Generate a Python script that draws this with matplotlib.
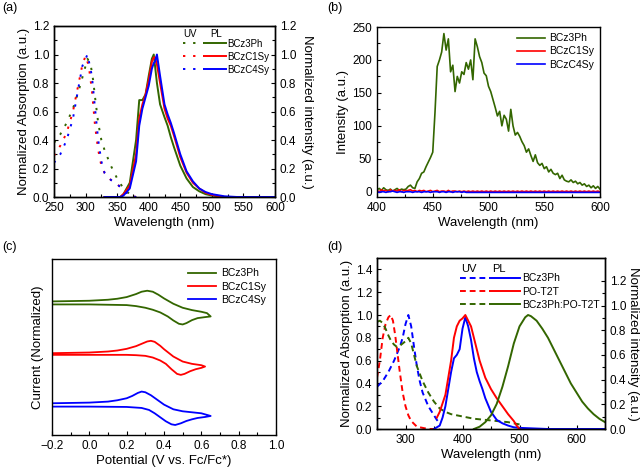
import matplotlib
matplotlib.use("Agg")
import matplotlib.pyplot as plt
import numpy as np
from matplotlib.legend_handler import HandlerTuple
from matplotlib.lines import Line2D

plt.rcParams['font.family'] = ['Liberation Sans', 'DejaVu Sans']
plt.rcParams['font.size'] = 8

GREEN = '#336600'
RED = '#ff0000'
BLUE = '#0000ff'

# ---------------- Panel (a) data ----------------
a_uv_x = [250, 260, 270, 280, 290, 295, 300, 303, 308, 312, 315, 320, 325, 330, 340, 350, 360, 370, 380]
a_uv_green = [0.38, 0.44, 0.52, 0.62, 0.76, 0.84, 0.92, 0.97, 0.93, 0.82, 0.70, 0.52, 0.40, 0.33, 0.22, 0.13, 0.06, 0.02, 0.0]
a_uv_red_x = [250, 260, 270, 280, 290, 295, 300, 305, 310, 315, 320, 325, 330, 340, 350, 360, 370, 380]
a_uv_red = [0.29, 0.36, 0.45, 0.60, 0.82, 0.93, 0.99, 0.92, 0.75, 0.50, 0.33, 0.22, 0.17, 0.12, 0.09, 0.05, 0.01, 0.0]
a_uv_blue_x = [250, 260, 270, 280, 290, 295, 300, 303, 310, 315, 320, 325, 330, 340, 350, 360, 370, 380]
a_uv_blue = [0.24, 0.30, 0.40, 0.55, 0.80, 0.92, 0.97, 1.00, 0.85, 0.62, 0.40, 0.25, 0.17, 0.12, 0.09, 0.05, 0.01, 0.0]

a_pl_x = [330, 355, 360, 370, 380, 385, 390, 395, 400, 405, 408, 410, 413, 418, 425, 430, 435, 440, 450, 460, 470, 480, 490, 500, 520, 540, 600]
a_pl_green = [0.0, 0.0, 0.02, 0.10, 0.40, 0.68, 0.68, 0.72, 0.85, 0.97, 1.00, 0.92, 0.80, 0.65, 0.56, 0.50, 0.42, 0.35, 0.22, 0.13, 0.07, 0.04, 0.02, 0.01, 0.0, 0.0, 0.0]
a_pl_red = [0.0, 0.0, 0.02, 0.08, 0.30, 0.55, 0.65, 0.72, 0.82, 0.95, 0.98, 0.98, 0.93, 0.80, 0.62, 0.55, 0.50, 0.43, 0.28, 0.17, 0.10, 0.06, 0.03, 0.015, 0.0, 0.0, 0.0]
a_pl_blue = [0.0, 0.0, 0.01, 0.06, 0.25, 0.50, 0.62, 0.70, 0.78, 0.90, 0.94, 0.95, 1.00, 0.85, 0.65, 0.58, 0.52, 0.45, 0.30, 0.18, 0.11, 0.06, 0.035, 0.02, 0.005, 0.0, 0.0]

# ---------------- Panel (b) data ----------------
b_x = list(range(400, 602, 2))
b_green = [3, 5, 2, 6, 3, 2, 4, 1, 3, 5, 2, 4, 3, 4, 8, 10, 6, 5, 15, 20,
           28, 30, 38, 45, 52, 60, 120, 190, 200, 212, 240, 215, 232, 182, 192, 152, 175, 165, 182, 178,
           196, 186, 200, 170, 232, 220, 205, 196, 180, 176, 160, 152, 140, 128, 115, 122, 100, 116, 110, 92,
           125, 100, 86, 90, 84, 76, 70, 60, 65, 55, 46, 56, 44, 40, 43, 35, 38, 30, 34, 28,
           26, 28, 20, 25, 18, 16, 15, 18, 14, 16, 12, 14, 10, 12, 8, 10, 6, 9, 5, 8, 4]
b_red = [2, 0, 3, 1, 2, 0, 3, 1, 2, 1, 3, 0, 2, 1, 2, 3, 1, 2, 0, 2,
         1, 2, 0, 1, 2, 0, 1, 2, 0, 1, 1, 0, 2, 0, 1, 1, 0, 1, 0, 1,
         0, 1, 0, 1, 0, 1, 0, 1, 0, 1, 0, 1, 0, 1, 0, 1, 0, 1, 0, 1,
         0, 1, 0, 1, 0, 1, 0, 1, 0, 1, 0, 1, 0, 1, 0, 1, 0, 1, 0, 1,
         0, 1, 0, 1, 0, 1, 0, 1, 0, 1, 0, 1, 0, 1, 0, 1, 0, 1, 0, 1, 0]
b_blue = [0, -1, 0, 0, -1, 0, 0, 1, 0, -1, 0, 0, -1, 0, 0, 0, -1, 0, 0, 0,
          -1, 0, 0, 0, -1, 0, 0, 0, -1, 0, 0, -1, 0, 0, -1, 0, 0, 0, -1, 0,
          -1, -1, -1, -1, -1, -1, -1, -1, -1, -1, -1, -1, -1, -1, -1, -1, -1, -1, -1, -1,
          -1, -1, -1, -1, -1, -1, -1, -1, -1, -1, -1, -1, -1, -1, -1, -1, -1, -1, -1, -1,
          -1, -1, -1, -1, -1, -1, -1, -1, -1, -1, -1, -1, -1, -1, -1, -1, -1, -1, -1, -1, -1]

# ---------------- Panel (c) data (closed CV loops) ----------------
c_green_v = [-0.2, -0.1, 0.0, 0.1, 0.15, 0.2, 0.25, 0.28, 0.31, 0.34, 0.37, 0.4, 0.45, 0.5, 0.55, 0.6, 0.63, 0.65,
             0.62, 0.58, 0.55, 0.52, 0.5, 0.48, 0.45, 0.42, 0.38, 0.34, 0.3, 0.25, 0.2, 0.1, 0.0, -0.2]
c_green_i = [4.00, 4.01, 4.02, 4.05, 4.08, 4.13, 4.22, 4.29, 4.32, 4.29, 4.20, 4.09, 3.93, 3.81, 3.74, 3.69, 3.65, 3.55,
             3.53, 3.50, 3.44, 3.35, 3.31, 3.33, 3.43, 3.55, 3.67, 3.75, 3.81, 3.86, 3.89, 3.90, 3.91, 3.91]
c_red_v = [-0.2, -0.1, 0.0, 0.1, 0.15, 0.2, 0.25, 0.28, 0.31, 0.33, 0.35, 0.38, 0.4, 0.45, 0.5, 0.55, 0.6, 0.62,
           0.6, 0.57, 0.54, 0.51, 0.49, 0.47, 0.44, 0.41, 0.38, 0.34, 0.3, 0.25, 0.2, 0.0, -0.2]
c_red_i = [2.45, 2.46, 2.47, 2.50, 2.53, 2.58, 2.66, 2.73, 2.80, 2.82, 2.79, 2.67, 2.57, 2.35, 2.20, 2.13, 2.09, 2.05,
           2.01, 1.97, 1.91, 1.83, 1.80, 1.83, 1.97, 2.13, 2.23, 2.32, 2.37, 2.39, 2.40, 2.40, 2.40]
c_blue_v = [-0.2, -0.1, 0.0, 0.1, 0.15, 0.2, 0.23, 0.26, 0.28, 0.3, 0.33, 0.36, 0.4, 0.45, 0.5, 0.55, 0.6, 0.65,
            0.62, 0.58, 0.55, 0.52, 0.49, 0.46, 0.44, 0.41, 0.38, 0.35, 0.32, 0.28, 0.2, 0.0, -0.2]
c_blue_i = [0.95, 0.96, 0.97, 1.00, 1.04, 1.10, 1.17, 1.26, 1.30, 1.28, 1.19, 1.07, 0.91, 0.77, 0.71, 0.68, 0.65, 0.57,
            0.54, 0.51, 0.47, 0.42, 0.35, 0.30, 0.32, 0.41, 0.53, 0.65, 0.75, 0.81, 0.84, 0.85, 0.85]

# ---------------- Panel (d) data ----------------
d_uv_blue_x = [250, 260, 270, 280, 290, 295, 300, 305, 310, 315, 320, 325, 330, 340, 350, 355, 360]
d_uv_blue = [0.37, 0.42, 0.50, 0.60, 0.72, 0.80, 0.92, 1.00, 0.90, 0.72, 0.55, 0.42, 0.32, 0.20, 0.12, 0.08, 0.05]
d_uv_red_x = [250, 255, 260, 265, 270, 274, 278, 282, 285, 290, 295, 300, 305, 310, 320, 330, 340, 360]
d_uv_red = [0.45, 0.60, 0.80, 0.92, 0.98, 1.00, 0.95, 0.82, 0.70, 0.50, 0.32, 0.20, 0.12, 0.07, 0.02, 0.01, 0.0, 0.0]
d_uv_green_x = [250, 255, 260, 265, 270, 275, 280, 285, 290, 295, 300, 305, 310, 315, 320, 330, 340, 350, 360, 370, 380, 400, 420, 440, 460, 480, 500]
d_uv_green = [0.94, 0.95, 0.93, 0.88, 0.82, 0.77, 0.74, 0.72, 0.73, 0.75, 0.77, 0.80, 0.75, 0.65, 0.55, 0.42, 0.32, 0.24, 0.18, 0.15, 0.13, 0.11, 0.09, 0.08, 0.07, 0.06, 0.04]

d_pl_blue_x = [350, 360, 365, 370, 375, 380, 385, 390, 395, 400, 405, 410, 415, 420, 425, 430, 435, 440, 450, 460, 470, 480, 490, 500, 550, 650]
d_pl_blue = [0.0, 0.03, 0.10, 0.20, 0.35, 0.50, 0.62, 0.65, 0.70, 0.88, 0.98, 0.90, 0.78, 0.62, 0.50, 0.42, 0.35, 0.27, 0.15, 0.08, 0.05, 0.03, 0.015, 0.01, 0.0, 0.0]
d_pl_red_x = [355, 360, 370, 380, 385, 390, 395, 400, 405, 410, 415, 420, 425, 430, 440, 450, 460, 470, 480, 490, 495, 500]
d_pl_red = [0.10, 0.15, 0.30, 0.60, 0.80, 0.90, 0.95, 0.97, 1.00, 0.95, 0.90, 0.80, 0.70, 0.60, 0.45, 0.35, 0.27, 0.20, 0.13, 0.07, 0.03, 0.0]
d_pl_green_x = [420, 430, 440, 450, 460, 470, 480, 490, 500, 510, 515, 520, 530, 540, 550, 560, 570, 580, 590, 600, 610, 620, 630, 640, 650]
d_pl_green = [0.0, 0.02, 0.06, 0.12, 0.22, 0.37, 0.55, 0.75, 0.90, 0.98, 1.00, 0.99, 0.95, 0.88, 0.80, 0.70, 0.60, 0.50, 0.40, 0.32, 0.24, 0.18, 0.13, 0.09, 0.06]

names_abc = ['BCz3Ph', 'BCzC1Sy', 'BCzC4Sy']
names_d = ['BCz3Ph', 'PO-T2T', 'BCz3Ph:PO-T2T']

W, H = 640, 467
fig = plt.figure(figsize=(6.4, 4.67), dpi=100)

def ax_at(l, r, t, b):
    return fig.add_axes([l / W, 1 - b / H, (r - l) / W, (b - t) / H])

def style(ax):
    ax.tick_params(direction='in', which='both', labelsize=8.5, length=3, width=0.8)
    ax.tick_params(which='minor', length=2)
    for s in ax.spines.values():
        s.set_linewidth(1.0)

dot = (0, (1.2, 4))
lw = 1.4

# ---- (a) ----
axa = ax_at(54, 275, 26, 197)
axa.plot(a_uv_x, a_uv_green, color=GREEN, ls=dot, lw=lw)
axa.plot(a_uv_red_x, a_uv_red, color=RED, ls=dot, lw=lw)
axa.plot(a_uv_blue_x, a_uv_blue, color=BLUE, ls=dot, lw=lw)
axa.plot(a_pl_x, a_pl_green, color=GREEN, lw=lw)
axa.plot(a_pl_x, a_pl_red, color=RED, lw=lw)
axa.plot(a_pl_x, a_pl_blue, color=BLUE, lw=lw)
axa.set_xlim(250, 600)
axa.set_ylim(0, 1.2)
axa.set_xticks(np.arange(250, 601, 50))
axa.set_yticks(np.arange(0, 1.21, 0.2))
axa.set_xticks(np.arange(275, 600, 50), minor=True)
axa.set_yticks(np.arange(0.1, 1.2, 0.2), minor=True)
axa.set_xlabel('Wavelength (nm)', fontsize=9.5, labelpad=2)
axa.set_ylabel('Normalized Absorption (a.u.)', fontsize=9.5, labelpad=2)
style(axa)
axa2 = axa.twinx()
axa2.set_ylim(0, 1.2)
axa2.set_yticks(np.arange(0, 1.21, 0.2))
axa2.set_yticks(np.arange(0.1, 1.2, 0.2), minor=True)
axa2.set_ylabel('Normalized intensity (a.u.)', fontsize=9.5, rotation=270, labelpad=12)
style(axa2)
cols = [GREEN, RED, BLUE]
hs = [(Line2D([], [], color=c, ls=dot, lw=lw), Line2D([], [], color=c, lw=lw)) for c in cols]
axa.legend(hs, names_abc, handler_map={tuple: HandlerTuple(ndivide=None, pad=0)},
           loc='upper right', bbox_to_anchor=(1.0, 0.96), frameon=False, fontsize=7,
           handlelength=4.4, handletextpad=0.15, labelspacing=0.3, borderaxespad=0.2)
axa.text(0.585, 0.935, 'UV', transform=axa.transAxes, fontsize=7)
axa.text(0.705, 0.935, 'PL', transform=axa.transAxes, fontsize=7)

# ---- (b) ----
axb = ax_at(377, 600, 27, 197)
axb.plot(b_x, b_green, color=GREEN, lw=1.2, label=names_abc[0])
axb.plot(b_x, b_red, color=RED, lw=1.2, label=names_abc[1])
axb.plot(b_x, b_blue, color=BLUE, lw=1.2, label=names_abc[2])
axb.set_xlim(400, 600)
axb.set_ylim(-8, 250)
axb.set_xticks(np.arange(400, 601, 50))
axb.set_xticks(np.arange(425, 600, 50), minor=True)
axb.set_yticks(np.arange(0, 251, 50))
axb.set_yticks(np.arange(25, 250, 50), minor=True)
axb.set_xlabel('Wavelength (nm)', fontsize=9.5, labelpad=2)
axb.set_ylabel('Intensity (a.u.)', fontsize=9.5, labelpad=2)
style(axb)
axb.legend(loc='upper right', frameon=False, fontsize=7.5, handlelength=2.6,
           handletextpad=0.4, labelspacing=0.3, borderaxespad=0.2)

# ---- (c) ----
axc = ax_at(52, 276, 259, 435)
axc.plot(c_green_v, c_green_i, color=GREEN, lw=1.3, label=names_abc[0])
axc.plot(c_red_v, c_red_i, color=RED, lw=1.3, label=names_abc[1])
axc.plot(c_blue_v, c_blue_i, color=BLUE, lw=1.3, label=names_abc[2])
axc.set_xlim(-0.2, 1.0)
axc.set_ylim(0, 5.27)
axc.set_xticks(np.arange(-0.2, 1.01, 0.2))
axc.set_xticks(np.arange(-0.1, 1.0, 0.2), minor=True)
axc.set_yticks([])
axc.set_xlabel('Potential (V vs. Fc/Fc*)', fontsize=9.5, labelpad=2)
axc.set_ylabel('Current (Normalized)', fontsize=9.5, labelpad=6)
style(axc)
axc.legend(loc='upper right', frameon=False, fontsize=7.5, handlelength=2.7,
           handletextpad=0.5, labelspacing=0.3, borderaxespad=0.5)

# ---- (d) ----
axd = ax_at(377, 605, 258, 429)
dash = (0, (3, 2))
axd.plot(d_uv_blue_x, d_uv_blue, color=BLUE, ls=dash, lw=lw)
axd.plot(d_uv_red_x, d_uv_red, color=RED, ls=dash, lw=lw)
axd.plot(d_uv_green_x, d_uv_green, color=GREEN, ls=dash, lw=lw)
axd.plot(d_pl_blue_x, d_pl_blue, color=BLUE, lw=lw)
axd.plot(d_pl_red_x, d_pl_red, color=RED, lw=lw)
axd.plot(d_pl_green_x, d_pl_green, color=GREEN, lw=lw)
axd.set_xlim(250, 650)
axd.set_ylim(0, 1.5)
axd.set_xticks(np.arange(300, 601, 100))
axd.set_xticks(np.arange(250, 651, 50), minor=True)
axd.set_yticks(np.arange(0, 1.41, 0.2))
axd.set_yticks(np.arange(0.1, 1.5, 0.2), minor=True)
axd.set_xlabel('Wavelength (nm)', fontsize=9.5, labelpad=2)
axd.set_ylabel('Normalized Absorption (a.u.)', fontsize=9.5, labelpad=2)
style(axd)
axd2 = axd.twinx()
axd2.set_ylim(0, 1.385)
axd2.set_yticks(np.arange(0, 1.21, 0.2))
axd2.set_yticks(np.arange(0.1, 1.3, 0.2), minor=True)
axd2.set_ylabel('Normalized intensity (a.u.)', fontsize=9.5, rotation=270, labelpad=9)
style(axd2)
colsd = [BLUE, RED, GREEN]
hsd = [(Line2D([], [], color=c, ls=dash, lw=lw), Line2D([], [], color=c, lw=lw)) for c in colsd]
axd2.legend(hsd, names_d, handler_map={tuple: HandlerTuple(ndivide=None, pad=0)},
            loc='upper right', bbox_to_anchor=(1.0, 0.94), frameon=False, fontsize=7.5,
            handlelength=5.8, handletextpad=0.2, labelspacing=0.3, borderaxespad=0.1)
axd2.text(0.37, 0.92, 'UV', transform=axd2.transAxes, fontsize=8)
axd2.text(0.505, 0.92, 'PL', transform=axd2.transAxes, fontsize=8)

# panel labels
for lab, x, y in [('(a)', 2, 8), ('(b)', 327, 8), ('(c)', 2, 247), ('(d)', 327, 247)]:
    fig.text(x / W, 1 - y / H, lab, fontsize=9, va='center', ha='left')

fig.savefig('out.png', dpi=100)
